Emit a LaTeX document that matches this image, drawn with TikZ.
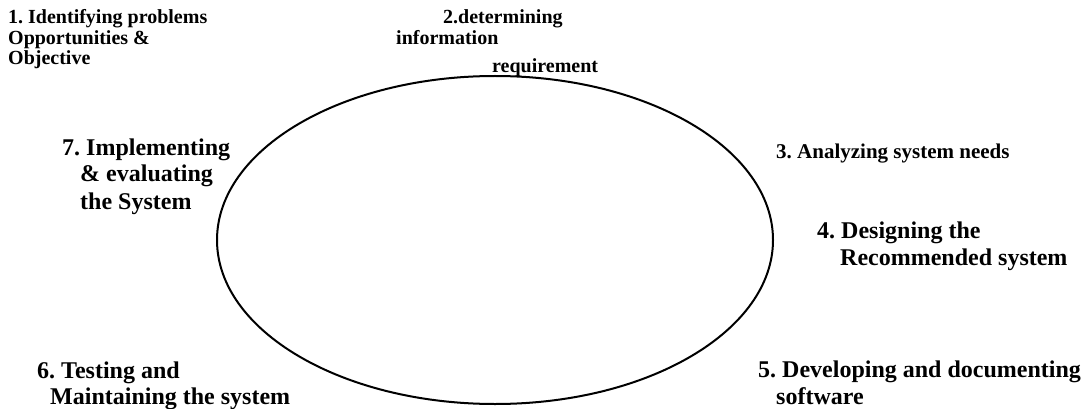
\documentclass[tikz,border=0pt]{standalone}
\usepackage{fontspec}
\setmainfont{Liberation Serif}
\frenchspacing
\begin{document}
\begin{tikzpicture}[x=1pt,y=-1pt,
  lblA/.style={anchor=base west,inner sep=0pt,font=\bfseries\fontsize{20}{21}\selectfont},
  lblB/.style={anchor=base west,inner sep=0pt,font=\bfseries\fontsize{21}{22}\selectfont},
  lblC/.style={anchor=base west,inner sep=0pt,font=\bfseries\fontsize{24}{27}\selectfont}]
\useasboundingbox (0,0) rectangle (1084,409);
\draw[line width=2pt] (495,240) ellipse [x radius=278, y radius=164];
\node[lblA] (l1a) at (8,24) {1. Identifying problems};
\node[lblA] (l1b) at (8,45) {Opportunities \&};
\node[lblA] (l1c) at (8,65) {Objective};
\node[lblA] (l2a) at (443,24) {2.determining};
\node[lblA] (l2b) at (396,45) {information};
\node[lblA] (l2c) at (492,73) {requirement};
\node[lblB] (l3a) at (776,158) {3. Analyzing system needs};
\node[lblC] (l4a) at (817,238) {4. Designing the};
\node[lblC] (l4b) at (840,265) {Recommended system};
\node[lblC] (l5a) at (758,377) {5. Developing and documenting};
\node[lblC] (l5b) at (776,404) {software};
\node[lblC] (l6a) at (37,378) {6. Testing and};
\node[lblC] (l6b) at (50,404) {Maintaining the system};
\node[lblC] (l7a) at (62,155) {7. Implementing};
\node[lblC] (l7b) at (80,182) {\& evaluating};
\node[lblC] (l7c) at (80,209) {the System};
\end{tikzpicture}
\end{document}
